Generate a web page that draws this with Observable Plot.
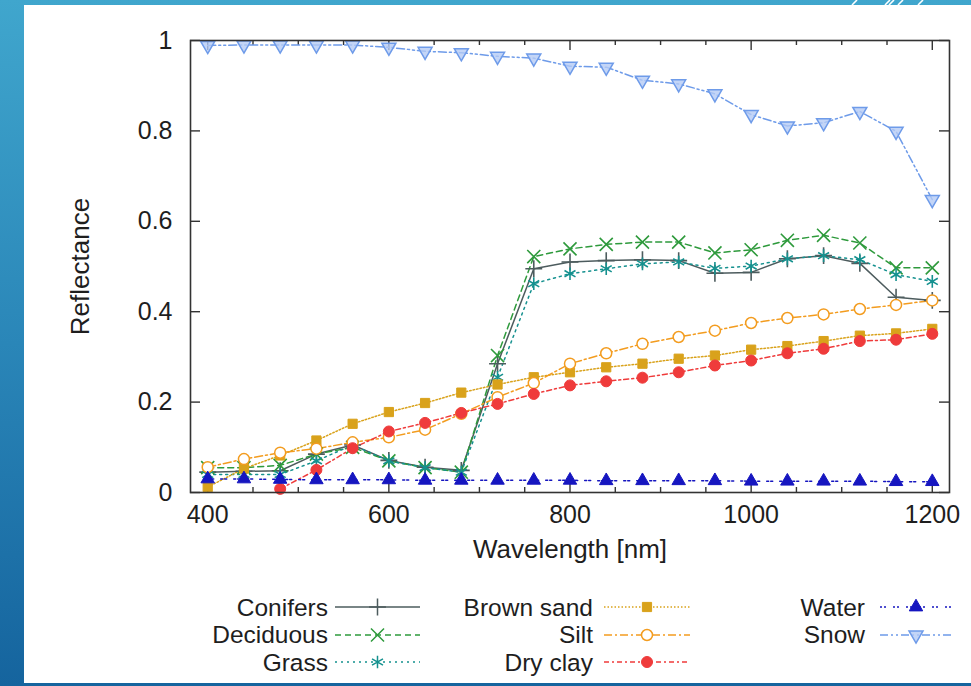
<!DOCTYPE html>
<html>
<head>
<meta charset="utf-8">
<script src="https://cdn.jsdelivr.net/npm/d3@7"></script>
<script src="https://cdn.jsdelivr.net/npm/@observablehq/plot@0.6"></script>
<style>
  html, body { margin: 0; padding: 0; }
  body {
    width: 971px; height: 686px; overflow: hidden; position: relative;
    background: linear-gradient(to bottom, #40a6cd 0%, #2a86b8 50%, #15649e 100%);
    font-family: "Liberation Sans", Arial, Helvetica, sans-serif;
  }
  #panel { position: absolute; left: 24px; top: 5px; width: 947px; height: 678px; background: #fff; }
  #chart { position: absolute; left: 0; top: 0; }
  #deco { position: absolute; left: 0; top: 0; }
  .lg-label { position: absolute; font-size: 24.5px; line-height: 25px; height: 25px; color: #1e1e1e; white-space: nowrap; }
  .lg-sample { position: absolute; }
</style>
</head>
<body>
<div id="panel"></div>
<svg id="deco" width="971" height="10">
  <g stroke="#fff" stroke-width="1.6">
    <line x1="852" y1="5" x2="857" y2="0"/>
    <line x1="885" y1="5" x2="890" y2="0"/>
    <line x1="889" y1="5" x2="894" y2="0"/>
    <line x1="898" y1="5" x2="903" y2="0"/>
    <line x1="918" y1="5" x2="923" y2="0"/>
  </g>
</svg>
<div id="chart"></div>
<div id="legend"></div>
<script>
// ---------- data ----------
const wavelength = [400,440,480,520,560,600,640,680,720,760,800,840,880,920,960,1000,1040,1080,1120,1160,1200];
const conifers  = [0.045,0.047,0.048,0.085,0.105,0.071,0.056,0.049,0.285,0.495,0.510,0.513,0.515,0.513,0.485,0.487,0.517,0.524,0.507,0.432,0.425];
const deciduous = [0.055,0.055,0.060,0.085,0.100,0.070,0.055,0.045,0.303,0.522,0.539,0.549,0.554,0.554,0.530,0.537,0.558,0.569,0.552,0.497,0.497];
const grass     = [0.040,0.040,0.040,0.070,0.105,0.070,0.055,0.045,0.255,0.462,0.484,0.495,0.506,0.510,0.496,0.501,0.517,0.524,0.515,0.482,0.467];
const brownSand = [0.012,0.053,0.082,0.115,0.152,0.178,0.198,0.221,0.239,0.255,0.266,0.277,0.285,0.296,0.303,0.316,0.324,0.335,0.347,0.352,0.362];
const silt      = [0.056,0.074,0.088,0.097,0.111,0.122,0.139,0.174,0.211,0.242,0.285,0.308,0.329,0.344,0.358,0.375,0.386,0.394,0.406,0.415,0.425];
const dryClay   = [null,null,0.008,0.050,0.098,0.135,0.154,0.176,0.196,0.218,0.237,0.246,0.254,0.266,0.281,0.292,0.308,0.318,0.335,0.338,0.351];
const water     = [0.030,0.030,0.029,0.028,0.028,0.028,0.027,0.027,0.027,0.027,0.027,0.026,0.026,0.026,0.026,0.025,0.025,0.025,0.025,0.024,0.024];
const snow      = [0.989,0.990,0.990,0.990,0.990,0.985,0.976,0.973,0.965,0.961,0.943,0.941,0.912,0.904,0.882,0.836,0.811,0.818,0.843,0.799,0.648];

const xTicksMajor = [400,600,800,1000,1200];
const xTicksMinor = [450,500,550,650,700,750,850,900,950,1050,1100,1150];
const yTicks = [0,0.2,0.4,0.6,0.8,1];
const yTickLabels = ["0","0.2","0.4","0.6","0.8","1"];

// custom downward triangle symbol
const triangleDown = {
  draw(context, size) {
    const y = -Math.sqrt(size / (Math.sqrt(3) * 3));
    context.moveTo(0, -y * 2);
    context.lineTo(-Math.sqrt(3) * y, y);
    context.lineTo(Math.sqrt(3) * y, y);
    context.closePath();
  }
};

// series styles
const series = [
  {name: "Conifers",   values: conifers,  color: "#4d5c5e", dash: null,            symbol: "plus",     fill: "none",    r: 5.5, col: 0, row: 0},
  {name: "Deciduous",  values: deciduous, color: "#2e9a3c", dash: "6,4",           symbol: "times",    fill: "none",    r: 6,   col: 0, row: 1},
  {name: "Grass",      values: grass,     color: "#15918f", dash: "2,4",           symbol: "asterisk", fill: "none",    r: 6,   col: 0, row: 2},
  {name: "Brown sand", values: brownSand, color: "#d9a21b", dash: "1.5,2",         symbol: "square",   fill: "#d9a21b", r: 5.2, col: 1, row: 0},
  {name: "Silt",       values: silt,      color: "#f39c1f", dash: "8,3,2,3",       symbol: "circle",   fill: "#fff",    r: 5.5, col: 1, row: 1},
  {name: "Dry clay",   values: dryClay,   color: "#ef3b3b", dash: "5,3,2,3",       symbol: "circle",   fill: "#ef3b3b", r: 5.5, col: 1, row: 2},
  {name: "Water",      values: water,     color: "#1616c0", dash: "2,2,2,7",       symbol: "triangle", fill: "#1616c0", r: 5,   col: 2, row: 0},
  {name: "Snow",       values: snow,      color: "#6e9be9", dash: "8,3,2,3,2,3",   symbol: triangleDown, fill: "#b4cbf5", r: 5.2, col: 2, row: 1}
];

const rowsFor = s => wavelength.map((w, i) => ({x: w, y: s.values[i]})).filter(d => d.y != null);

const W = 971, H = 580, mL = 190, mR = 22, mT = 40, mB = 88;
const frameW = W - mL - mR, frameH = H - mT - mB;
const FS = 26;

const marks = [];
for (const s of series) {
  marks.push(Plot.line(rowsFor(s), {x: "x", y: "y", stroke: s.color, strokeWidth: 1.5, strokeDasharray: s.dash}));
}
for (const s of series) {
  const isStrokeSym = s.fill === "none";
  marks.push(Plot.dot(rowsFor(s), {
    x: "x", y: "y", symbol: () => s.symbol, r: s.r,
    fill: s.fill, stroke: s.color, strokeWidth: isStrokeSym ? 1.6 : (s.fill === "#fff" || s.symbol === triangleDown ? 1.5 : 1),
    fillOpacity: s.symbol === triangleDown ? 0.8 : 1
  }));
}

const chart = Plot.plot({
  width: W, height: H,
  marginLeft: mL, marginRight: mR, marginTop: mT, marginBottom: mB,
  style: {background: "transparent", fontFamily: "'Liberation Sans', Arial, Helvetica, sans-serif", fontSize: FS + "px", color: "#1e1e1e"},
  x: {domain: [381, 1219]},
  y: {domain: [0, 1]},
  symbol: {type: "identity"},
  marks: [
    // inward ticks
    Plot.tickX(xTicksMajor, {x: d => d, insetTop: frameH - 10, stroke: "#333", strokeWidth: 1.4}),
    Plot.tickX(xTicksMajor, {x: d => d, insetBottom: frameH - 10, stroke: "#333", strokeWidth: 1.4}),
    Plot.tickX(xTicksMinor, {x: d => d, insetTop: frameH - 5, stroke: "#333", strokeWidth: 1.4}),
    Plot.tickX(xTicksMinor, {x: d => d, insetBottom: frameH - 5, stroke: "#333", strokeWidth: 1.4}),
    Plot.tickY(yTicks, {y: d => d, insetRight: frameW - 10, stroke: "#333", strokeWidth: 1.4}),
    Plot.tickY(yTicks, {y: d => d, insetLeft: frameW - 10, stroke: "#333", strokeWidth: 1.4}),
    Plot.axisX(xTicksMajor, {tickSize: 0, tickPadding: 13, tickFormat: d => String(d), label: null, fontSize: 25}),
    Plot.axisY(yTicks, {tickSize: 0, tickPadding: 18, tickFormat: d => yTickLabels[yTicks.indexOf(d)], label: null, fontSize: 25}),
    ...marks,
    Plot.frame({stroke: "#333", strokeWidth: 1.6}),
    Plot.text(["Wavelength [nm]"], {frameAnchor: "bottom", dy: 57, textAnchor: "middle", lineAnchor: "middle", fontSize: FS, fill: "#1e1e1e"}),
    Plot.text(["Reflectance"], {frameAnchor: "left", dx: -110, rotate: -90, textAnchor: "middle", lineAnchor: "middle", fontSize: FS, fill: "#1e1e1e"})
  ]
});
document.getElementById("chart").appendChild(chart);

// ---------- legend ----------
const legendCols = [
  {textRight: 328, x0: 335, x1: 420},
  {textRight: 593, x0: 604, x1: 690},
  {textRight: 865, x0: 880, x1: 952}
];
const legendRows = [607, 634.5, 662];
const legend = document.getElementById("legend");
for (const s of series) {
  const c = legendCols[s.col], cy = legendRows[s.row];
  const lab = document.createElement("div");
  lab.className = "lg-label";
  lab.textContent = s.name;
  lab.style.right = (W - c.textRight) + "px";
  lab.style.top = (cy - 12.5) + "px";
  legend.appendChild(lab);
  const w = c.x1 - c.x0;
  const svg = d3.create("svg").attr("class", "lg-sample").attr("width", w).attr("height", 20)
    .style("left", c.x0 + "px").style("top", (cy - 10) + "px");
  svg.append("line").attr("x1", 0).attr("x2", w).attr("y1", 10).attr("y2", 10)
    .attr("stroke", s.color).attr("stroke-width", 1.5).attr("stroke-dasharray", s.dash);
  const symMap = {plus: d3.symbolPlus, times: d3.symbolTimes, asterisk: d3.symbolAsterisk, square: d3.symbolSquare, circle: d3.symbolCircle, triangle: d3.symbolTriangle};
  const symType = typeof s.symbol === "string" ? symMap[s.symbol] : s.symbol;
  const size = Math.PI * s.r * s.r;
  svg.append("path").attr("d", d3.symbol(symType, size)()).attr("transform", `translate(${w / 2},10)`)
    .attr("fill", s.fill).attr("stroke", s.color)
    .attr("stroke-width", s.fill === "none" || s.fill === "#fff" || s.symbol === triangleDown ? 1.5 : 1)
    .attr("fill-opacity", s.symbol === triangleDown ? 0.8 : 1);
  legend.appendChild(svg.node());
}
</script>
</body>
</html>
